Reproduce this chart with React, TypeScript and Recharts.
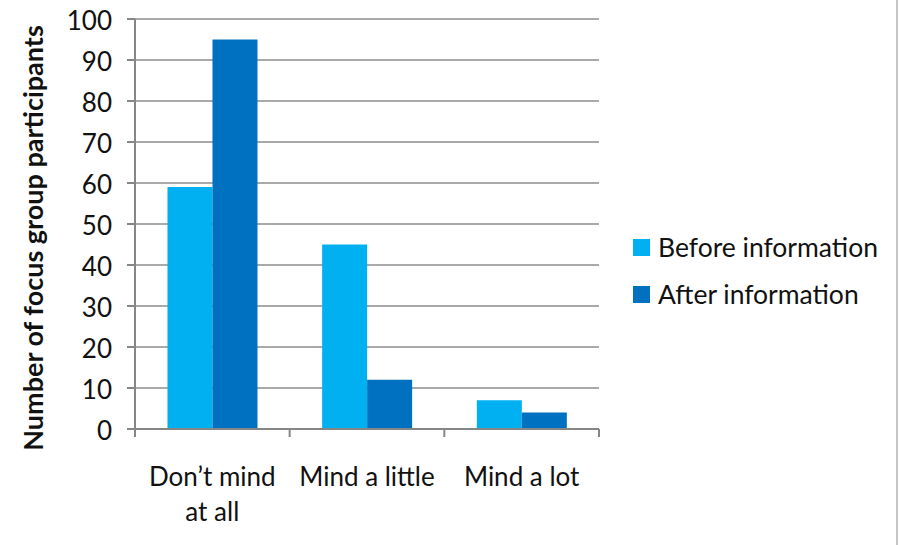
import React from "react";
import { BarChart, Bar, XAxis, YAxis, CartesianGrid, Legend } from "recharts";

// Focus group responses before and after receiving information
const categories = ["Don’t mind at all", "Mind a little", "Mind a lot"];
const categoryLines = [["Don’t mind", "at all"], ["Mind a little"], ["Mind a lot"]];
const beforeValues = [59, 45, 7];
const afterValues = [95, 12, 4];
const yTicks = [0, 10, 20, 30, 40, 50, 60, 70, 80, 90, 100];

const seriesKeys = ["before", "after"];
const seriesNames = { before: "Before information", after: "After information" };
const BEFORE_COLOR = "#00B0F0";
const AFTER_COLOR = "#0070C0";
const AXIS_COLOR = "#868686";
const TEXT_COLOR = "#111111";
const FONT = "Lato, 'Open Sans', sans-serif";

const data = categories.map((name, i) => ({
  name,
  before: beforeValues[i],
  after: afterValues[i],
}));

const X_TICK_SIZE = 8;
const X_TICK_MARGIN = 2;

// Category labels, with tick marks on the boundaries between categories
function CategoryTick(props: any) {
  const { x, y, payload, index, visibleTicksCount } = props;
  const half = payload && typeof payload.offset === "number" ? payload.offset : 0;
  const axisY = y - X_TICK_SIZE - X_TICK_MARGIN;
  const last = index === visibleTicksCount - 1;
  const lines = categoryLines[categories.indexOf(payload.value)] || [payload.value];
  return (
    <g>
      <line x1={x - half} x2={x - half} y1={axisY} y2={axisY + X_TICK_SIZE} stroke={AXIS_COLOR} strokeWidth={2} />
      {last && (
        <line x1={x + half} x2={x + half} y1={axisY} y2={axisY + X_TICK_SIZE} stroke={AXIS_COLOR} strokeWidth={2} />
      )}
      <text textAnchor="middle" fontSize={26} fontFamily={FONT} fill={TEXT_COLOR}>
        {lines.map((line: string, i: number) => (
          <tspan key={line} x={x} y={axisY + 57 + i * 35}>
            {line}
          </tspan>
        ))}
      </text>
    </g>
  );
}

function LegendBox(props: any) {
  const items = [...(props.payload || [])].sort(
    (a: any, b: any) => seriesKeys.indexOf(a.dataKey) - seriesKeys.indexOf(b.dataKey)
  );
  return (
    <svg width={260} height={90} style={{ display: "block" }}>
      {items.map((item: any, i: number) => (
        <g key={item.value} transform={`translate(0, ${i * 47})`}>
          <rect x={0} y={9} width={17} height={17} fill={item.color} />
          <text x={25} y={27} fontSize={26.5} fontFamily={FONT} fill={TEXT_COLOR}>
            {item.value}
          </text>
        </g>
      ))}
    </svg>
  );
}

function AxisTitle() {
  const cx = 43;
  const cy = 238;
  return (
    <text
      x={cx}
      y={cy}
      transform={`rotate(-90, ${cx}, ${cy})`}
      textAnchor="middle"
      fontSize={27}
      fontWeight="bold"
      fontFamily={FONT}
      fill={TEXT_COLOR}
    >
      Number of focus group participants
    </text>
  );
}

export default function App() {
  return (
    <div style={{ position: "absolute", left: 0, top: 0, width: 899, height: 545, background: "#fff" }}>
      <BarChart
        width={899}
        height={545}
        data={data}
        margin={{ top: 19, right: 300, left: 75, bottom: 56 }}
        barCategoryGap="21%"
        barGap={0}
      >
        <CartesianGrid horizontal vertical={false} stroke="#8c8c8c" strokeWidth={1.5} />
        <XAxis
          dataKey="name"
          height={60}
          interval={0}
          tickSize={X_TICK_SIZE}
          tickMargin={X_TICK_MARGIN}
          tickLine={false}
          axisLine={{ stroke: AXIS_COLOR, strokeWidth: 2 }}
          tick={<CategoryTick />}
        />
        <YAxis
          width={60}
          domain={[0, 100]}
          ticks={yTicks}
          interval={0}
          tickSize={8}
          tickMargin={15}
          axisLine={{ stroke: AXIS_COLOR, strokeWidth: 2 }}
          tickLine={{ stroke: AXIS_COLOR, strokeWidth: 2 }}
          tick={{ fontSize: 26, fontFamily: FONT, fill: TEXT_COLOR, dy: 2 }}
          label={<AxisTitle />}
        />
        <Legend
          layout="horizontal"
          verticalAlign="middle"
          align="center"
          width={260}
          wrapperStyle={{ position: "absolute", left: 633, top: 230, width: 260 }}
          content={<LegendBox />}
        />
        <Bar dataKey="before" name={seriesNames.before} fill={BEFORE_COLOR} isAnimationActive={false} />
        <Bar dataKey="after" name={seriesNames.after} fill={AFTER_COLOR} isAnimationActive={false} />
      </BarChart>
      <div style={{ position: "absolute", left: 896, top: 0, width: 2, height: 545, background: "#c6c6c6" }} />
    </div>
  );
}
